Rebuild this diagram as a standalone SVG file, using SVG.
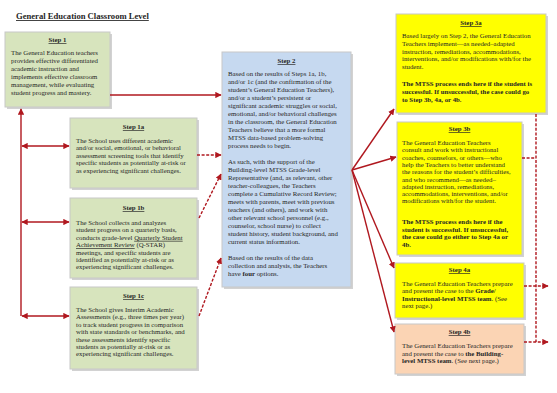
<svg xmlns="http://www.w3.org/2000/svg" width="557" height="393" viewBox="0 0 557 393">
<style>
.bg{fill:#ffffff}
.sh{fill:#9c9c9c;opacity:.45}
.g{fill:#d7e4bd;stroke:#c8c8c8;stroke-width:1}
.bl{fill:#c6d9f0;stroke:#c8c8c8;stroke-width:1}
.y{fill:#ffff00;stroke:#c8c8c8;stroke-width:1}
.p{fill:#fbd4b4;stroke:#c8c8c8;stroke-width:1}
.t{font-family:"Liberation Serif","Times New Roman",serif;font-size:6.8px;fill:#262626}
.h{font-weight:bold;text-decoration:underline;text-anchor:middle}
.b{font-weight:bold}
.u{text-decoration:underline}
.title{font-family:"Liberation Serif","Times New Roman",serif;font-size:8.6px;font-weight:bold;text-decoration:underline;fill:#262626}
.c{stroke:#b0181f;stroke-width:1.4;fill:none}
.d{stroke-dasharray:3 1.6}
</style>
<defs>
<marker id="ah" viewBox="0 0 10 10" refX="9" refY="5" markerWidth="4.5" markerHeight="4.5" orient="auto-start-reverse">
<path d="M0,0 L10,5 L0,10 z" fill="#b0181f"/>
</marker>
</defs>
<rect class="bg" x="0" y="0" width="557" height="393"/>

<text class="title" x="16" y="19">General Education Classroom Level</text>

<g id="step1">
<rect class="sh" x="7" y="34" width="105" height="75"/>
<rect class="g" x="5" y="32" width="105" height="75"/>
<text class="t h" x="57.5" y="42">Step 1</text>
<text class="t" x="11" y="55"><tspan x="11">The General Education teachers</tspan><tspan x="11" dy="8">provides effective differentiated</tspan><tspan x="11" dy="8">academic instruction and</tspan><tspan x="11" dy="8">implements effective classroom</tspan><tspan x="11" dy="8">management, while evaluating</tspan><tspan x="11" dy="8">student progress and mastery.</tspan></text>
</g>

<g id="step1a">
<rect class="sh" x="72" y="120" width="127" height="70"/>
<rect class="g" x="70" y="118" width="127" height="70"/>
<text class="t h" x="133.5" y="129">Step 1a</text>
<text class="t" x="76" y="143"><tspan x="76">The School uses different academic</tspan><tspan x="76" dy="7.4">and/or social, emotional, or behavioral</tspan><tspan x="76" dy="7.4">assessment screening tools that identify</tspan><tspan x="76" dy="7.4">specific students as potentially at-risk or</tspan><tspan x="76" dy="7.4">as experiencing significant challenges.</tspan></text>
</g>

<g id="step1b">
<rect class="sh" x="72" y="200" width="127" height="80"/>
<rect class="g" x="70" y="198" width="127" height="80"/>
<text class="t h" x="133.5" y="210">Step 1b</text>
<text class="t" x="76" y="225"><tspan x="76">The School collects and analyzes</tspan><tspan x="76" dy="7.4">student progress on a quarterly basis,</tspan><tspan x="76" dy="7.4">conducts grade-level </tspan><tspan class="u">Quarterly Student</tspan><tspan x="76" dy="7.4" class="u">Achievement Review</tspan><tspan> (Q-STAR)</tspan><tspan x="76" dy="7.4">meetings, and specific students are</tspan><tspan x="76" dy="7.4">identified as potentially at-risk or as</tspan><tspan x="76" dy="7.4">experiencing significant challenges.</tspan></text>
</g>

<g id="step1c">
<rect class="sh" x="72" y="289" width="127" height="82"/>
<rect class="g" x="70" y="287" width="127" height="82"/>
<text class="t h" x="133.5" y="298">Step 1c</text>
<text class="t" x="76" y="312"><tspan x="76">The School gives Interim Academic</tspan><tspan x="76" dy="7.4">Assessments (e.g., three times per year)</tspan><tspan x="76" dy="7.4">to track student progress in comparison</tspan><tspan x="76" dy="7.4">with state standards or benchmarks, and</tspan><tspan x="76" dy="7.4">these assessments identify specific</tspan><tspan x="76" dy="7.4">students as potentially at-risk or as</tspan><tspan x="76" dy="7.4">experiencing significant challenges.</tspan></text>
</g>

<g id="step2">
<rect class="sh" x="224" y="54" width="129" height="235"/>
<rect class="bl" x="222" y="52" width="129" height="235"/>
<text class="t h" x="286.5" y="63">Step 2</text>
<text class="t" x="228" y="76"><tspan x="228">Based on the results of Steps 1a, 1b,</tspan><tspan x="228" dy="8">and/or 1c (and the confirmation of the</tspan><tspan x="228" dy="8">student’s General Education Teachers),</tspan><tspan x="228" dy="8">and/or a student’s persistent or</tspan><tspan x="228" dy="8">significant academic struggles or social,</tspan><tspan x="228" dy="8">emotional, and/or behavioral challenges</tspan><tspan x="228" dy="8">in the classroom, the General Education</tspan><tspan x="228" dy="8">Teachers believe that a more formal</tspan><tspan x="228" dy="8">MTSS data-based problem-solving</tspan><tspan x="228" dy="8">process needs to begin.</tspan><tspan x="228" dy="16">As such, with the support of the</tspan><tspan x="228" dy="8">Building-level MTSS Grade-level</tspan><tspan x="228" dy="8">Representative (and, as relevant, other</tspan><tspan x="228" dy="8">teacher-colleagues, the Teachers</tspan><tspan x="228" dy="8">complete a Cumulative Record Review;</tspan><tspan x="228" dy="8">meets with parents, meet with previous</tspan><tspan x="228" dy="8">teachers (and others), and work with</tspan><tspan x="228" dy="8">other relevant school personnel (e.g.,</tspan><tspan x="228" dy="8">counselor, school nurse) to collect</tspan><tspan x="228" dy="8">student history, student background, and</tspan><tspan x="228" dy="8">current status information.</tspan><tspan x="228" dy="16">Based on the results of  the data</tspan><tspan x="228" dy="8">collection and analysis, the Teachers</tspan><tspan x="228" dy="8">have </tspan><tspan class="b">four</tspan><tspan> options.</tspan></text>
</g>

<g id="step3a">
<rect class="sh" x="398" y="16" width="150" height="99"/>
<rect class="y" x="396" y="14" width="150" height="99"/>
<text class="t h" x="471" y="25">Step 3a</text>
<text class="t" x="402" y="38"><tspan x="402">Based largely on Step 2, the General Education</tspan><tspan x="402" dy="7.8">Teachers implement—as needed–adapted</tspan><tspan x="402" dy="7.8">instruction, remediations, accommodations,</tspan><tspan x="402" dy="7.8">interventions, and/or modifications with/for the</tspan><tspan x="402" dy="7.8">student.</tspan></text>
<text class="t b" x="402" y="86"><tspan x="402">The MTSS process ends here if the student is</tspan><tspan x="402" dy="7.8">successful.  If unsuccessful, the case could go</tspan><tspan x="402" dy="7.8">to Step 3b, 4a, or 4b.</tspan></text>
</g>

<g id="step3b">
<rect class="sh" x="399" y="124" width="125" height="133"/>
<rect class="y" x="397" y="122" width="125" height="133"/>
<text class="t h" x="459.5" y="131">Step 3b</text>
<text class="t" x="402" y="145"><tspan x="402">The General Education Teachers</tspan><tspan x="402" dy="7.3">consult and work with instructional</tspan><tspan x="402" dy="7.3">coaches, counselors, or others—who</tspan><tspan x="402" dy="7.3">help the Teachers to better understand</tspan><tspan x="402" dy="7.3">the reasons for the student’s difficulties,</tspan><tspan x="402" dy="7.3">and who recommend—as needed–</tspan><tspan x="402" dy="7.3">adapted instruction, remediations,</tspan><tspan x="402" dy="7.3">accommodations, interventions, and/or</tspan><tspan x="402" dy="7.3">modifications with/for the student.</tspan></text>
<text class="t b" x="402" y="224"><tspan x="402">The MTSS process ends here if the</tspan><tspan x="402" dy="7.6">student is successful.  If unsuccessful,</tspan><tspan x="402" dy="7.6">the case could go either to Step 4a or</tspan><tspan x="402" dy="7.6">4b.</tspan></text>
</g>

<g id="step4a">
<rect class="sh" x="397" y="265" width="129" height="55"/>
<rect class="y" x="395" y="263" width="129" height="55"/>
<text class="t h" x="459.5" y="272">Step 4a</text>
<text class="t" x="402" y="286"><tspan x="402">The General Education Teachers prepare</tspan><tspan x="402" dy="7.3">and present the case to the </tspan><tspan class="b">Grade/</tspan><tspan x="402" dy="7.3" class="b">Instructional-level MTSS team</tspan><tspan>.  (See</tspan><tspan x="402" dy="7.3">next page.)</tspan></text>
</g>

<g id="step4b">
<rect class="sh" x="397" y="326" width="129" height="50"/>
<rect class="p" x="395" y="324" width="129" height="50"/>
<text class="t h" x="459.5" y="334">Step 4b</text>
<text class="t" x="402" y="348"><tspan x="402">The General Education Teachers prepare</tspan><tspan x="402" dy="7.5">and present the case to </tspan><tspan class="b">the Building-</tspan><tspan x="402" dy="7.5" class="b">level MTSS team</tspan><tspan>.  (See next page.)</tspan></text>
</g>

<g id="connectors">
<line class="c" x1="110" y1="95" x2="221" y2="95" marker-end="url(#ah)"/>
<line class="c d" x1="197" y1="155" x2="221" y2="155" marker-end="url(#ah)"/>
<line class="c d" x1="199" y1="218" x2="221" y2="174" marker-end="url(#ah)"/>
<line class="c d" x1="199" y1="316" x2="221" y2="258" marker-end="url(#ah)"/>
<line class="c" x1="21" y1="316" x2="21" y2="109" marker-end="url(#ah)"/>
<line class="c" x1="22" y1="146" x2="69" y2="146" marker-start="url(#ah)" marker-end="url(#ah)"/>
<line class="c" x1="22" y1="222" x2="69" y2="222" marker-start="url(#ah)" marker-end="url(#ah)"/>
<line class="c" x1="22" y1="316" x2="69" y2="316" marker-start="url(#ah)" marker-end="url(#ah)"/>
<line class="c" x1="352" y1="170" x2="394" y2="109" marker-end="url(#ah)"/>
<line class="c" x1="352" y1="170" x2="396" y2="157" marker-end="url(#ah)"/>
<line class="c" x1="352" y1="170" x2="394" y2="268" marker-end="url(#ah)"/>
<line class="c" x1="352" y1="170" x2="394" y2="332" marker-end="url(#ah)"/>
<path class="c d" d="M536,114 V342 M522,158 H536"/>
<line class="c d" x1="524" y1="286" x2="548" y2="286" marker-end="url(#ah)"/>
<line class="c d" x1="524" y1="342" x2="548" y2="342" marker-end="url(#ah)"/>
</g>
</svg>
